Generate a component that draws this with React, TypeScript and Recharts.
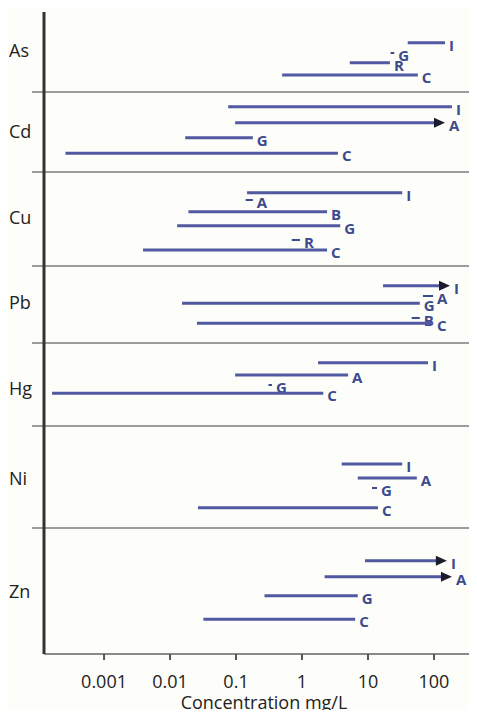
import React from 'react';
import { ComposedChart, XAxis, YAxis, ReferenceLine } from 'recharts';

// Metal groups (y-axis categories), their slot on the row scale, and group dividers
const metals = ['As', 'Cd', 'Cu', 'Pb', 'Hg', 'Ni', 'Zn'];
const metalSlots = [40, 121, 207, 292, 378, 468, 581];
const dividerSlots = [80, 160, 254, 331, 414, 516];

// Concentration axis (mg/L, log)
const xTicks = [0.001, 0.01, 0.1, 1, 10, 100];
const xDomain = [1.23e-4, 377];
const slotDomain = [0, 642];

type Row = { key: string; lo: number; hi: number; slot: number; arrow?: boolean };

const asRows: Row[] = [
  { key: 'I', lo: 40, hi: 147, slot: 30.7 },
  { key: 'G', lo: 22, hi: 25, slot: 41 },
  { key: 'R', lo: 5.3, hi: 21.5, slot: 50.7 },
  { key: 'C', lo: 0.5, hi: 57, slot: 63 },
];
const cdRows: Row[] = [
  { key: 'I', lo: 0.076, hi: 187, slot: 94.7 },
  { key: 'A', lo: 0.097, hi: 147, slot: 110.7, arrow: true },
  { key: 'G', lo: 0.017, hi: 0.18, slot: 125.7 },
  { key: 'C', lo: 2.6e-4, hi: 3.5, slot: 141.3 },
];
const cuRows: Row[] = [
  { key: 'I', lo: 0.147, hi: 33, slot: 180.7 },
  { key: 'A', lo: 0.14, hi: 0.18, slot: 188 },
  { key: 'B', lo: 0.019, hi: 2.4, slot: 199.7 },
  { key: 'G', lo: 0.0128, hi: 3.8, slot: 213.7 },
  { key: 'R', lo: 0.7, hi: 0.93, slot: 228 },
  { key: 'C', lo: 0.0039, hi: 2.4, slot: 238 },
];
const pbRows: Row[] = [
  { key: 'I', lo: 16.9, hi: 175, slot: 273.7, arrow: true },
  { key: 'A', lo: 68, hi: 97, slot: 284 },
  { key: 'G', lo: 0.0152, hi: 61, slot: 291.3 },
  { key: 'B', lo: 46, hi: 61, slot: 306 },
  { key: 'C', lo: 0.0256, hi: 97, slot: 311.3 },
];
const hgRows: Row[] = [
  { key: 'I', lo: 1.75, hi: 81, slot: 350.7 },
  { key: 'A', lo: 0.097, hi: 5.0, slot: 363 },
  { key: 'G', lo: 0.31, hi: 0.35, slot: 373 },
  { key: 'C', lo: 1.63e-4, hi: 2.1, slot: 381.3 },
];
const niRows: Row[] = [
  { key: 'I', lo: 4.0, hi: 33, slot: 452 },
  { key: 'A', lo: 7.0, hi: 55, slot: 466 },
  { key: 'G', lo: 11.5, hi: 13.7, slot: 476 },
  { key: 'C', lo: 0.0265, hi: 14.2, slot: 495.7 },
];
const znRows: Row[] = [
  { key: 'I', lo: 9.0, hi: 157, slot: 548.7, arrow: true },
  { key: 'A', lo: 2.2, hi: 187, slot: 564.7, arrow: true },
  { key: 'G', lo: 0.27, hi: 7.0, slot: 583.7 },
  { key: 'C', lo: 0.032, hi: 6.4, slot: 607.3 },
];

const allRows: Row[] = [...asRows, ...cdRows, ...cuRows, ...pbRows, ...hgRows, ...niRows, ...znRows];

const BAR = '#5159a0';
const LETTER = '#3c4a8e';
const FONT = '"Open Sans", "Noto Sans", sans-serif';

const RowMark = (p: any) => {
  const { x1, y1, x2, y2, letter, arrow, short } = p;
  const y = (y1 + y2) / 2;
  const end = arrow ? x2 - 8 : x2;
  return (
    <g>
      <line x1={x1} y1={y} x2={end} y2={y} stroke={short ? LETTER : BAR} strokeWidth={short ? 2 : 3} />
      {arrow && (
        <polygon points={`${x2},${y} ${x2 - 11},${y - 5} ${x2 - 11},${y + 5}`} fill="#1c1c2c" />
      )}
      <text
        x={x2 + 4}
        y={y + 4}
        dominantBaseline="middle"
        fontFamily={FONT}
        fontWeight={700}
        fontSize={15}
        fill={LETTER}
      >
        {letter}
      </text>
    </g>
  );
};

const Divider = (p: any) => {
  const { x1, y1, x2 } = p;
  return <line x1={x1 - 12} y1={y1} x2={x2 - 2} y2={y1} stroke="#9c9c9c" strokeWidth={2} />;
};

const MetalTick = (p: any) => {
  const { y, payload } = p;
  const idx = metalSlots.indexOf(payload.value);
  return (
    <text x={9} y={y} dominantBaseline="middle" fontFamily={FONT} fontSize={18} fill="#222">
      {idx >= 0 ? metals[idx] : ''}
    </text>
  );
};

export default function App() {
  return (
    <div style={{ margin: -8, width: 477, height: 718, background: '#fdfdf9' }}>
      <ComposedChart width={477} height={718} margin={{ top: 12, right: 5, bottom: 0, left: 0 }} data={[]}>
        <XAxis
          type="number"
          dataKey="x"
          scale="log"
          domain={xDomain}
          allowDataOverflow
          ticks={xTicks}
          tickFormatter={(v: number) => String(v)}
          height={64}
          tickSize={6}
          tickMargin={15}
          tick={{ fontSize: 18, fill: '#222', fontFamily: FONT }}
          tickLine={{ stroke: '#555', strokeWidth: 2 }}
          axisLine={{ stroke: '#8a8a8a', strokeWidth: 2 }}
          label={{
            value: 'Concentration mg/L',
            position: 'insideBottom',
            offset: 9,
            fontSize: 18,
            fill: '#222',
            fontFamily: FONT,
            dx: 6,
          }}
        />
        <YAxis
          type="number"
          dataKey="slot"
          domain={slotDomain}
          reversed
          allowDataOverflow
          ticks={metalSlots}
          width={44}
          tickLine={false}
          tick={<MetalTick />}
          axisLine={{ stroke: '#333', strokeWidth: 3 }}
        />
        {dividerSlots.map((s, i) => (
          <ReferenceLine key={`d${i}`} y={s} shape={(p: any) => <Divider {...p} />} />
        ))}
        {allRows.map((r, i) => (
          <ReferenceLine
            key={`r${i}`}
            segment={[
              { x: r.lo, y: r.slot },
              { x: r.hi, y: r.slot },
            ]}
            ifOverflow="visible"
            shape={(p: any) => (
              <RowMark {...p} letter={r.key} arrow={!!r.arrow} short={r.hi / r.lo < 1.6} />
            )}
          />
        ))}
      </ComposedChart>
    </div>
  );
}
